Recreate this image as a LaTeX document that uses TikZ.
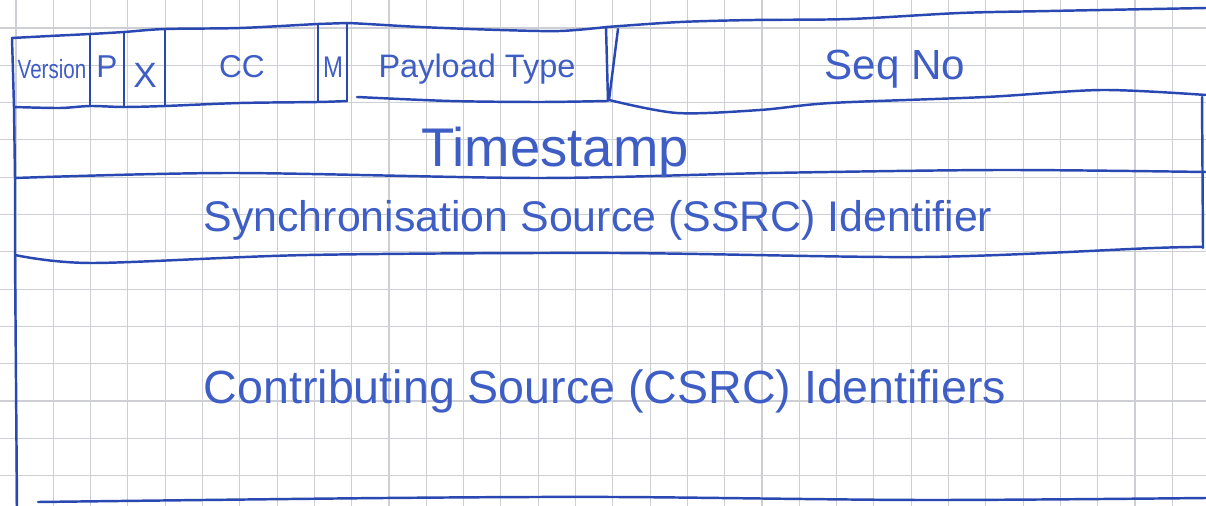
\documentclass[tikz,border=0pt]{standalone}
\usepackage{fontspec}
\setmainfont{Liberation Sans}
\definecolor{ink}{RGB}{42,72,178}
\definecolor{inktext}{RGB}{62,94,198}
\definecolor{gridgrey}{RGB}{206,207,213}

\tikzset{
  pen/.style={draw=ink, line width=1.4pt, line cap=round, line join=round},
  hand/.style={text=inktext, inner sep=0pt, anchor=base, font=\fontsize{#1}{#1}\selectfont},
}

\begin{document}
\begin{tikzpicture}[x=0.02cm, y=-0.02cm]
        \useasboundingbox (0,0) rectangle (1206,506);
        \fill[white] (0,0) rectangle (1206,506);
        % squared paper
        \foreach \gx in {0,...,31} \draw[gridgrey, line width=0.6pt] (16+37.3*\gx, 0) -- (16+37.3*\gx, 506);
        \foreach \gy in {0,...,12} \draw[gridgrey, line width=0.6pt] (0, 28+37.3*\gy) -- (1206, 28+37.3*\gy);

        % first word: version, flags, CC, M, payload type, seq no
        \draw[pen] plot[smooth, tension=0.5] coordinates {(12,38) (50,36) (90,34) (124,32) (165,29) (240,28) (318,24) (347,23) (420,27) (500,30) (560,31) (607,27)};
        \draw[pen] plot[smooth, tension=0.5] coordinates {(607,27) (680,22) (754,20) (850,19) (960,13) (1050,11) (1206,8)};
        \draw[pen] plot[smooth, tension=0.5] coordinates {(14,107) (60,108) (90,106) (124,107) (165,106) (240,103) (318,102) (347,101)};
        \draw[pen] plot[smooth, tension=0.5] coordinates {(357,97) (450,101) (540,102) (607,101)};
        \draw[pen] plot[smooth, tension=0.5] coordinates {(609,100) (677,113) (760,110) (831,103) (986,97) (1102,90) (1206,95)};
        \foreach \x/\t/\b in {90/34/106, 124/32/107, 165/29/106, 318/24/102, 347/23/101}
          \draw[pen] (\x, \t) -- (\x, \b);
        \draw[pen] (606,27) -- (608,101);
        \draw[pen] (618,29) -- (609,100);

        % outer frame and the lower rows
        \draw[pen] (12,38) -- (14,107) -- (15,178) -- (15,255) -- (17,506);
        \draw[pen] (1202,97) -- (1203,248);
        \draw[pen] plot[smooth, tension=0.5] coordinates {(15,178) (231,173) (538,178) (769,173) (1000,170) (1206,172)};
        \draw[pen] plot[smooth, tension=0.5] coordinates {(15,255) (92,263) (308,255) (615,253) (923,257) (1154,248) (1203,247)};
        \draw[pen] plot[smooth, tension=0.5] coordinates {(38,502) (385,498) (615,497) (923,500) (1206,498)};

        % field names
        \node[hand=15] (version) at (52,79) {\scalebox{0.78}[1]{Version}};
        \node[hand=18] (pbit) at (107,78) {P};
        \node[hand=20] (xbit) at (145,88) {X};
        \node[hand=18] (cc) at (242,78) {CC};
        \node[hand=17] (mbit) at (333,78) {\scalebox{0.8}[1]{M}};
        \node[hand=18.5] (ptype) at (477,78) {Payload Type};
        \node[hand=24] (seqno) at (895,80) {Seq No};
        \node[hand=31] (tstamp) at (555,167) {Timestamp};
        \node[hand=24.4] (ssrc) at (598,232) {Synchronisation Source (SSRC) Identifier};
        \node[hand=26.5] (csrc) at (605,403) {Contributing Source (CSRC) Identifiers};
    \end{tikzpicture}
\end{document}
